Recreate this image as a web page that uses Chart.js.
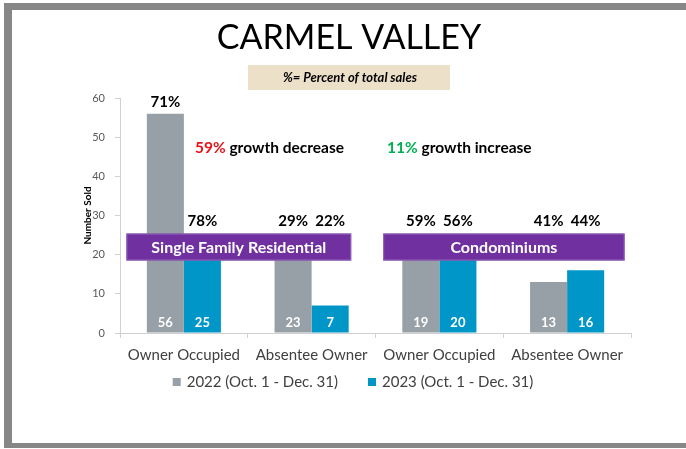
<!DOCTYPE html>
<html lang="en">
<head>
<meta charset="UTF-8">
<title>Carmel Valley</title>
<script src="https://cdn.jsdelivr.net/npm/chart.js@4.4.0/dist/chart.umd.min.js"></script>
<style>
  html, body { margin: 0; padding: 0; background: #fff; }
  canvas { display: block; }
</style>
</head>
<body>
<canvas id="myChart" width="686" height="449"></canvas>
<script>
// data
const categories = ['Owner Occupied', 'Absentee Owner', 'Owner Occupied', 'Absentee Owner'];
const seriesNames = ['2022 (Oct. 1 - Dec. 31)', '2023 (Oct. 1 - Dec. 31)'];
const sold2022 = [56, 23, 19, 13];
const sold2023 = [25, 7, 20, 16];
const share2022 = ['71%', '29%', '59%', '41%'];
const share2023 = ['78%', '22%', '56%', '44%'];
const groupNames = ['Single Family Residential', 'Condominiums'];
const growthRates = ['59%', '11%'];
const growthWords = [' growth decrease', ' growth increase'];
const yMax = 60;
const yStep = 10;

// where the notes sit, in axis units (category index / number sold)
const groupSpans = [[-0.45, 1.31], [1.56, 3.45]];
const bandRange = [18.5, 25.4];
const growthPos = [[0.087, 47.2], [1.59, 47.2]];

const FONT = 'Lato, "Open Sans", sans-serif';
const colors = ['#979fa7', '#0096c8'];

const deco = {
  id: 'deco',
  beforeDraw(chart) {
    const ctx = chart.ctx;
    ctx.save();
    ctx.fillStyle = '#fff';
    ctx.fillRect(0, 0, chart.width, chart.height);
    // grey slide frame
    ctx.fillStyle = '#878787';
    ctx.fillRect(4, 3, 682, 445);
    ctx.fillStyle = '#fff';
    ctx.fillRect(12, 10, 674, 433);
    // title
    ctx.fillStyle = '#000';
    ctx.textAlign = 'center';
    ctx.textBaseline = 'alphabetic';
    ctx.font = '34px ' + FONT;
    ctx.fillText('CARMEL VALLEY', 349, 49);
    // note box
    ctx.fillStyle = '#ede0c9';
    ctx.fillRect(248, 65, 202, 25);
    ctx.fillStyle = '#000';
    ctx.textBaseline = 'middle';
    ctx.font = 'italic bold 13px ' + FONT;
    ctx.fillText('%= Percent of total sales', 350, 78);
    ctx.restore();
  },
  afterDatasetsDraw(chart) {
    const {ctx, scales: {x, y}} = chart;
    ctx.save();
    ctx.textAlign = 'center';
    ctx.textBaseline = 'middle';

    // numbers at the foot of each bar
    ctx.font = 'bold 13px ' + FONT;
    ctx.fillStyle = '#fff';
    chart.data.datasets.forEach((ds, i) => {
      chart.getDatasetMeta(i).data.forEach((bar, j) => {
        ctx.fillText(String(ds.data[j]), bar.x, y.getPixelForValue(0) - 10);
      });
    });

    // purple group banners
    const bTop = y.getPixelForValue(bandRange[1]);
    const bBot = y.getPixelForValue(bandRange[0]);
    groupNames.forEach((name, i) => {
      const x0 = x.getPixelForValue(groupSpans[i][0]);
      const x1 = x.getPixelForValue(groupSpans[i][1]);
      ctx.fillStyle = '#7030a0';
      ctx.fillRect(x0, bTop, x1 - x0, bBot - bTop);
      ctx.strokeStyle = '#9468b8';
      ctx.lineWidth = 1;
      ctx.strokeRect(x0 + 0.5, bTop + 0.5, x1 - x0 - 1, bBot - bTop - 1);
      ctx.fillStyle = '#fff';
      ctx.font = 'bold 16px ' + FONT;
      ctx.fillText(name, (x0 + x1) / 2, (bTop + bBot) / 2 + 1);
    });

    // share labels above the bars
    const shares = [share2022, share2023];
    ctx.font = 'bold 15px ' + FONT;
    ctx.fillStyle = '#000';
    chart.data.datasets.forEach((ds, i) => {
      chart.getDatasetMeta(i).data.forEach((bar, j) => {
        const top = Math.min(bar.y, bTop);
        ctx.fillText(shares[i][j], bar.x, top - 12);
      });
    });

    // growth notes
    ctx.textAlign = 'left';
    ctx.font = 'bold 15.5px ' + FONT;
    growthRates.forEach((rate, i) => {
      const px = x.getPixelForValue(growthPos[i][0]);
      const py = y.getPixelForValue(growthPos[i][1]);
      ctx.fillStyle = i === 0 ? '#e8141b' : '#00b050';
      ctx.fillText(rate, px, py);
      const w = ctx.measureText(rate).width;
      ctx.fillStyle = '#000';
      ctx.fillText(growthWords[i], px + w, py);
    });
    ctx.restore();
  },
  afterDraw(chart) {
    // legend under the axis
    const ctx = chart.ctx;
    ctx.save();
    ctx.font = '15px ' + FONT;
    ctx.textBaseline = 'middle';
    ctx.textAlign = 'left';
    const box = 8, gap = 6, between = 30;
    const widths = chart.data.datasets.map(ds => ctx.measureText(ds.label).width);
    const total = widths.reduce((a, w) => a + box + gap + w, 0) + between;
    let cx = 353 - total / 2;
    const cy = 382;
    chart.data.datasets.forEach((ds, i) => {
      ctx.fillStyle = ds.backgroundColor;
      ctx.fillRect(cx, cy - box / 2, box, box);
      ctx.fillStyle = '#404040';
      ctx.fillText(ds.label, cx + box + gap, cy);
      cx += box + gap + widths[i] + between;
    });
    ctx.restore();
  }
};

const ctx = document.getElementById('myChart').getContext('2d');
const chart = new Chart(ctx, {
  type: 'bar',
  data: {
    labels: categories,
    datasets: [
      { label: seriesNames[0], data: sold2022, backgroundColor: colors[0] },
      { label: seriesNames[1], data: sold2023, backgroundColor: colors[1] }
    ]
  },
  options: {
    responsive: false,
    animation: false,
    events: [],
    layout: { padding: { left: 76, right: 55, top: 98, bottom: 76 } },
    datasets: { bar: { categoryPercentage: 0.58, barPercentage: 1 } },
    plugins: {
      legend: { display: false },
      tooltip: { enabled: false }
    },
    scales: {
      x: {
        grid: { drawOnChartArea: false, tickLength: 5, color: '#d0d0d0' },
        border: { color: '#d0d0d0' },
        ticks: { color: '#404040', font: { family: FONT, size: 15 }, padding: 8, maxRotation: 0 },
        afterFit(scale) { scale.height = 40; }
      },
      y: {
        min: 0,
        max: yMax,
        grid: { drawOnChartArea: false, tickLength: 5, color: '#d0d0d0' },
        border: { color: '#d0d0d0' },
        ticks: { stepSize: yStep, color: '#595959', font: { family: FONT, size: 11 }, padding: 10 },
        title: {
          display: true,
          text: 'Number Sold',
          color: '#000',
          font: { family: FONT, size: 10, weight: 'bold' },
          padding: { top: 6, bottom: 0 }
        },
        afterFit(scale) { scale.width = 44; }
      }
    }
  },
  plugins: [deco]
});
</script>
</body>
</html>
